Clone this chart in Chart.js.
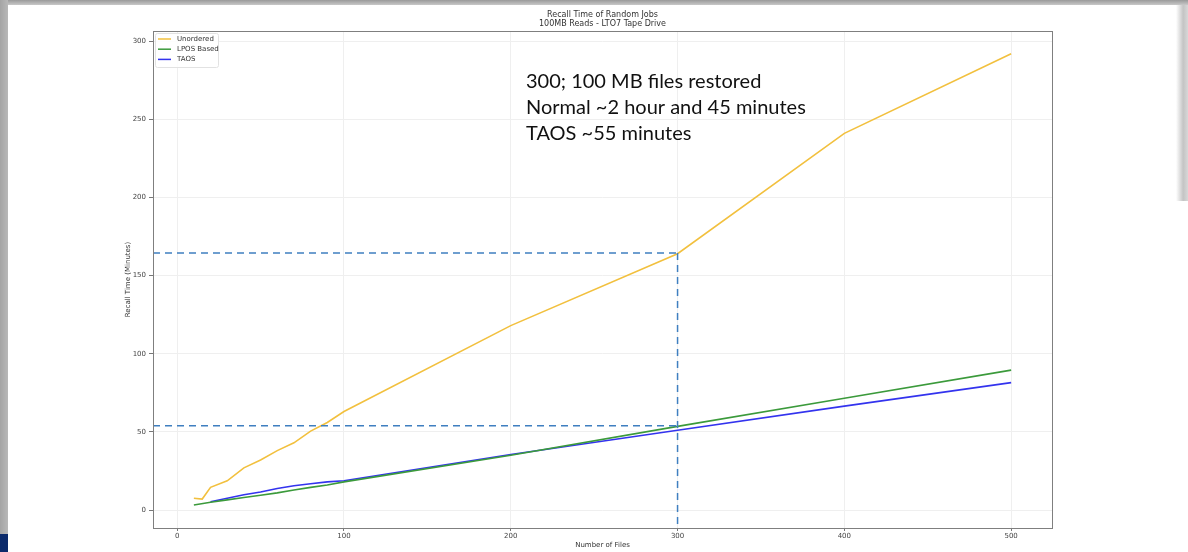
<!DOCTYPE html>
<html>
<head>
<meta charset="utf-8">
<script src="https://cdn.jsdelivr.net/npm/chart.js@4.4.1/dist/chart.umd.min.js"></script>
<style>
  html, body { margin: 0; padding: 0; background: #fff; }
  #page { position: relative; width: 1188px; height: 552px; overflow: hidden; background: #fff; }
  #topBar { position: absolute; left: 0; top: 0; width: 1188px; height: 5px;
    background: linear-gradient(#9a9a9a, #c8c8c8); }
  #leftBar { position: absolute; left: 0; top: 0; width: 8px; height: 534px;
    background: linear-gradient(90deg, #a4a4a4, #b8b8b8); }
  #leftBlue { position: absolute; left: 0; top: 534px; width: 8px; height: 18px; background: #0b2a6b; }
  #rightShade { position: absolute; left: 1176px; top: 5px; width: 12px; height: 196px;
    background: linear-gradient(90deg, #ffffff, #c4c4c4 60%, #d8d8d8); }
  canvas { position: absolute; left: 0; top: 0; }
</style>
</head>
<body>
<div id="page">
  <canvas id="chart" width="1188" height="552"></canvas>
  <div id="topBar"></div>
  <div id="leftBar"></div>
  <div id="leftBlue"></div>
  <div id="rightShade"></div>
</div>
<script>
// values
var unorderedFiles = [10, 15, 20, 30, 40, 50, 60, 70, 80, 90, 100, 200, 300, 400, 500];
var unorderedTime  = [7.5, 7, 14.5, 18.7, 27, 32, 38, 43, 50.5, 56, 63, 118, 164, 241, 292];

var lposFiles = [10, 20, 30, 40, 50, 60, 70, 80, 90, 100, 200, 300, 400, 500];
var lposTime  = [3.2, 5, 6.5, 8, 9.5, 11, 12.8, 14.5, 16, 18, 35, 53.5, 71.5, 89.5];

var taosFiles = [20, 30, 40, 50, 60, 70, 80, 90, 100, 200, 300, 400, 500];
var taosTime  = [5.3, 7.5, 9.8, 11.5, 13.8, 15.5, 16.8, 18, 18.7, 35.5, 51, 66.5, 81.5];

var xTicks = [0, 100, 200, 300, 400, 500];
var yTicks = [0, 50, 100, 150, 200, 250, 300];

// reference lines (files, minutes)
var refFiles = 300;
var refNormal = 164.5;
var refTaos = 54;

var noteLines = [
	"300; 100 MB files restored",
	"Normal ~2 hour and 45 minutes",
	"TAOS ~55 minutes"
];

function toPoints(xs, ys) {
	var pts = [];
	for (var i = 0; i < xs.length; i++) {
		pts.push({ x: xs[i], y: ys[i] });
	}
	return pts;
}

var tickFont = { family: "DejaVu Sans", size: 7 };
var gridColor = "#efefef";

var framePlugin = {
	id: "frame",
	afterDatasetsDraw: function(chart) {
		var ctx = chart.ctx;
		var a = chart.chartArea;
		var xs = chart.scales.x, ys = chart.scales.y;

		// dashed reference lines
		ctx.save();
		ctx.strokeStyle = "#3f7fc0";
		ctx.lineWidth = 1.5;
		ctx.setLineDash([7, 5]);
		var px = xs.getPixelForValue(refFiles);
		var pyHigh = ys.getPixelForValue(refNormal);
		var pyLow = ys.getPixelForValue(refTaos);
		ctx.beginPath();
		ctx.moveTo(a.left, pyHigh); ctx.lineTo(px, pyHigh);
		ctx.moveTo(a.left, pyLow); ctx.lineTo(px, pyLow);
		ctx.moveTo(px, pyHigh); ctx.lineTo(px, a.bottom);
		ctx.stroke();
		ctx.restore();

		// box around plot
		ctx.save();
		ctx.strokeStyle = "#7f7f7f";
		ctx.lineWidth = 1;
		ctx.strokeRect(Math.round(a.left) + 0.5, Math.round(a.top) + 0.5,
			Math.round(a.right - a.left), Math.round(a.bottom - a.top));
		ctx.restore();

		// legend, top left inside plot
		ctx.save();
		var lx = a.left + 2, ly = a.top + 2;
		ctx.fillStyle = "rgba(255,255,255,0.85)";
		ctx.strokeStyle = "#e2e2e2";
		ctx.lineWidth = 1;
		ctx.beginPath();
		ctx.roundRect(lx + 0.5, ly + 0.5, 63, 34, 2);
		ctx.fill();
		ctx.stroke();
		ctx.font = "7px 'DejaVu Sans'";
		ctx.textBaseline = "middle";
		chart.data.datasets.forEach(function(ds, i) {
			var y = ly + 6 + i * 10.2;
			ctx.strokeStyle = ds.borderColor;
			ctx.lineWidth = 1.5;
			ctx.beginPath();
			ctx.moveTo(lx + 3, y); ctx.lineTo(lx + 16, y);
			ctx.stroke();
			ctx.fillStyle = "#333";
			ctx.fillText(ds.label, lx + 22, y);
		});
		ctx.restore();

		// note text
		ctx.save();
		ctx.font = "20px Lato";
		ctx.fillStyle = "#111";
		ctx.textBaseline = "alphabetic";
		noteLines.forEach(function(t, i) {
			ctx.fillText(t, 526, 88 + i * 26);
		});
		ctx.restore();
	}
};

var ctx = document.getElementById("chart");
var myChart = new Chart(ctx, {
	type: "line",
	data: {
		datasets: [
			{
				label: "Unordered",
				data: toPoints(unorderedFiles, unorderedTime),
				borderColor: "#f2c03e",
				borderWidth: 1.6
			},
			{
				label: "LPOS Based",
				data: toPoints(lposFiles, lposTime),
				borderColor: "#3b9a3b",
				borderWidth: 1.6
			},
			{
				label: "TAOS",
				data: toPoints(taosFiles, taosTime),
				borderColor: "#3333ee",
				borderWidth: 1.6
			}
		]
	},
	options: {
		responsive: false,
		animation: false,
		devicePixelRatio: 1,
		elements: { point: { radius: 0 }, line: { tension: 0 } },
		layout: { padding: { left: 120, right: 136, top: 0, bottom: 0 } },
		plugins: {
			legend: { display: false },
			tooltip: { enabled: false },
			title: {
				display: true,
				fullSize: false,
				text: ["Recall Time of Random Jobs", "100MB Reads - LTO7 Tape Drive"],
				font: { family: "DejaVu Sans", size: 8, weight: "normal", lineHeight: 1.15 },
				color: "#333",
				padding: { top: 10, bottom: 2.6 }
			}
		},
		scales: {
			x: {
				type: "linear",
				min: -14.5,
				max: 524.5,
				afterBuildTicks: function(s) { s.ticks = xTicks.map(function(v) { return { value: v }; }); },
				afterFit: function(s) { s.height = 24; },
				ticks: { font: tickFont, color: "#444", padding: 1, maxRotation: 0 },
				grid: { color: gridColor, tickColor: "#777", tickLength: 3 },
				border: { display: false },
				title: { display: true, text: "Number of Files", font: tickFont, color: "#333", padding: { top: 0, bottom: 3 } }
			},
			y: {
				type: "linear",
				min: -11.5,
				max: 306.5,
				afterBuildTicks: function(s) { s.ticks = yTicks.map(function(v) { return { value: v }; }); },
				afterFit: function(s) { s.width = 33; },
				ticks: { font: tickFont, color: "#444", padding: 3 },
				grid: { color: gridColor, tickColor: "#777", tickLength: 4 },
				border: { display: false },
				title: { display: true, text: "Recall Time (Minutes)", font: tickFont, color: "#333", padding: { top: 4, bottom: 0 } }
			}
		}
	},
	plugins: [framePlugin]
});
</script>
</body>
</html>
